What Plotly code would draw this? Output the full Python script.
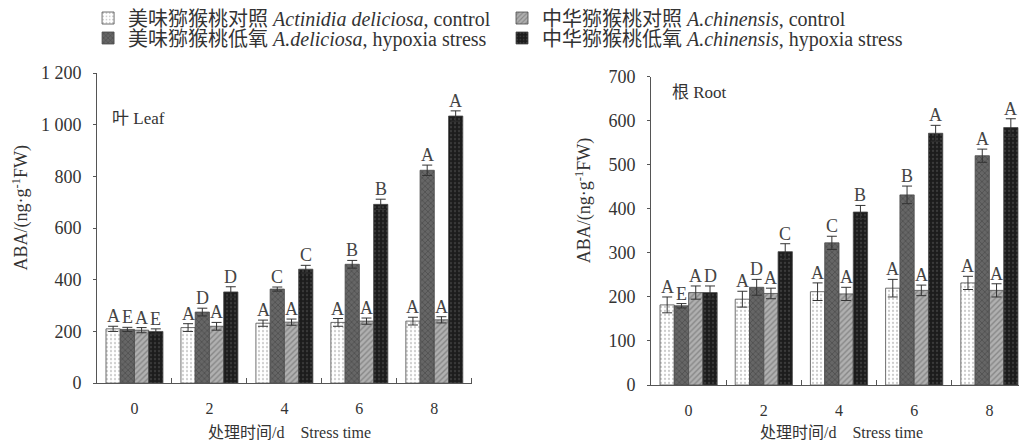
import plotly.graph_objects as go

days = ["0", "2", "4", "6", "8"]
series_names = [
    "美味猕猴桃对照 <i>Actinidia deliciosa</i>, control",
    "美味猕猴桃低氧 <i>A.deliciosa</i>, hypoxia stress",
    "中华猕猴桃对照 <i>A.chinensis</i>, control",
    "中华猕猴桃低氧 <i>A.chinensis</i>, hypoxia stress",
]
legend_ids = ["legend", "legend3", "legend2", "legend4"]

leaf_values = [
    [210, 215, 232, 235, 240],
    [208, 275, 364, 460, 824],
    [205, 220, 236, 240, 245],
    [200, 353, 441, 692, 1034],
]
leaf_err = [
    [10, 15, 12, 15, 15],
    [8, 15, 8, 15, 20],
    [10, 15, 12, 12, 12],
    [10, 20, 15, 20, 20],
]
leaf_letters = [
    ["A", "A", "A", "A", "A"],
    ["E", "D", "C", "B", "A"],
    ["A", "A", "A", "A", "A"],
    ["E", "D", "C", "B", "A"],
]

root_values = [
    [182, 195, 212, 220, 232],
    [180, 222, 323, 432, 521],
    [210, 208, 207, 215, 215],
    [210, 303, 393, 572, 585],
]
root_err = [
    [18, 18, 20, 20, 15],
    [5, 18, 15, 20, 15],
    [15, 12, 15, 12, 15],
    [15, 18, 15, 18, 20],
]
root_letters = [
    ["A", "A", "A", "A", "A"],
    ["E", "D", "C", "B", "A"],
    ["A", "A", "A", "A", "A"],
    ["D", "C", "B", "A", "A"],
]

leaf_ticks = [0, 200, 400, 600, 800, 1000, 1200]
leaf_ticktext = ["0", "200", "400", "600", "800", "1 000", "1 200"]
root_ticks = [0, 100, 200, 300, 400, 500, 600, 700]

y_title = "ABA/(ng·g<sup>-1</sup>FW)"
x_title = "处理时间/d\u2003Stress time"

styles = [
    dict(shape=".", bgcolor="#ffffff", fgcolor="#9a9a9a", size=4, solidity=0.25),
    dict(shape="x", bgcolor="#666666", fgcolor="#2a2a2a", size=4, solidity=0.3),
    dict(shape="/", bgcolor="#b0b0b0", fgcolor="#5e5e5e", size=4, solidity=0.35),
    dict(shape=".", bgcolor="#1c1c1c", fgcolor="#5a5a5a", size=4, solidity=0.25),
]

SERIF = "Liberation Serif, Noto Sans CJK SC, serif"
BW = 0.19
offsets = [-2 * BW + i * BW for i in range(4)]
xpos = list(range(len(days)))

fig = go.Figure()
annotations = []

for panel, (vals, errs, letters, xa, ya) in enumerate([
    (leaf_values, leaf_err, leaf_letters, "x", "y"),
    (root_values, root_err, root_letters, "x2", "y2"),
]):
    for i in range(4):
        fig.add_trace(go.Bar(
            x=xpos, y=vals[i], xaxis=xa, yaxis=ya,
            name=series_names[i], legend=legend_ids[i],
            showlegend=(panel == 0),
            width=BW, offset=offsets[i],
            marker=dict(pattern=styles[i], line=dict(color="#4a4a4a", width=0.8)),
            error_y=dict(type="data", array=errs[i], color="#333333", thickness=1, width=5),
            hoverinfo="skip",
        ))
        for j in range(len(days)):
            annotations.append(dict(
                x=xpos[j] + offsets[i] + BW / 2, y=vals[i][j] + errs[i][j],
                xref=xa, yref=ya, text=letters[i][j], showarrow=False,
                yanchor="bottom", yshift=-2,
                font=dict(family=SERIF, size=18, color="#444444"),
            ))

annotations.append(dict(x=0.035, y=0.855, xref="x domain", yref="y domain", text="叶 Leaf",
                        showarrow=False, xanchor="left", yanchor="middle",
                        font=dict(family=SERIF, size=17, color="#333")))
annotations.append(dict(x=0.05, y=0.948, xref="x2 domain", yref="y2 domain", text="根 Root",
                        showarrow=False, xanchor="left", yanchor="middle",
                        font=dict(family=SERIF, size=17, color="#333")))
annotations.append(dict(x=-0.0822, y=0.562, xref="paper", yref="paper", text=y_title,
                        textangle=-90, showarrow=False, xanchor="center", yanchor="middle",
                        font=dict(family=SERIF, size=18, color="#333")))
annotations.append(dict(x=0.5237, y=0.587, xref="paper", yref="paper", text=y_title,
                        textangle=-90, showarrow=False, xanchor="center", yanchor="middle",
                        font=dict(family=SERIF, size=18, color="#333")))
annotations.append(dict(x=0.2075, y=-0.150, xref="paper", yref="paper", text=x_title,
                        showarrow=False, xanchor="center", yanchor="middle",
                        font=dict(family=SERIF, size=16, color="#333")))
annotations.append(dict(x=0.80, y=-0.152, xref="paper", yref="paper", text=x_title,
                        showarrow=False, xanchor="center", yanchor="middle",
                        font=dict(family=SERIF, size=16, color="#333")))

xcommon = dict(
    range=[-0.5, 4.5], tickvals=xpos, ticktext=days, ticks="", showline=True,
    linecolor="#555", linewidth=1, showgrid=False, zeroline=False, automargin=False,
    ticklabelstandoff=11,
    tickfont=dict(family=SERIF, size=16, color="#333"),
    minor=dict(tickmode="array", tickvals=[0.5, 1.5, 2.5, 3.5, 4.5], ticks="inside",
               ticklen=5, tickcolor="#555", showgrid=False),
)
ycommon = dict(
    showline=True, linecolor="#555", linewidth=1, ticks="outside", ticklen=3,
    tickcolor="#555", showgrid=False, zeroline=False, automargin=False,
    ticklabelstandoff=8,
    tickfont=dict(family=SERIF, size=18, color="#333"),
)

legend_common = dict(
    orientation="h", xanchor="left", yanchor="middle",
    font=dict(family=SERIF, size=20, color="#333"), bgcolor="rgba(0,0,0,0)",
    itemwidth=30,
)

fig.update_layout(
    width=1019, height=435,
    margin=dict(l=89, r=0, t=62, b=58, autoexpand=False),
    paper_bgcolor="white", plot_bgcolor="white",
    barmode="overlay",
    xaxis=dict(domain=[0, 0.403], **xcommon),
    xaxis2=dict(domain=[0.5957, 1.0], anchor="y2", **xcommon),
    yaxis=dict(domain=[0.006, 0.99], range=[0, 1200], tickvals=leaf_ticks, ticktext=leaf_ticktext,
               anchor="x", **ycommon),
    yaxis2=dict(domain=[0.0, 0.978], range=[0, 700], tickvals=root_ticks, anchor="x2", **ycommon),
    legend=dict(x=-0.0096, y=1.165, **legend_common),
    legend2=dict(x=0.4355, y=1.165, **legend_common),
    legend3=dict(x=-0.0096, y=1.1016, **legend_common),
    legend4=dict(x=0.4355, y=1.1016, **legend_common),
    annotations=annotations,
)

fig.write_html("out.html")
